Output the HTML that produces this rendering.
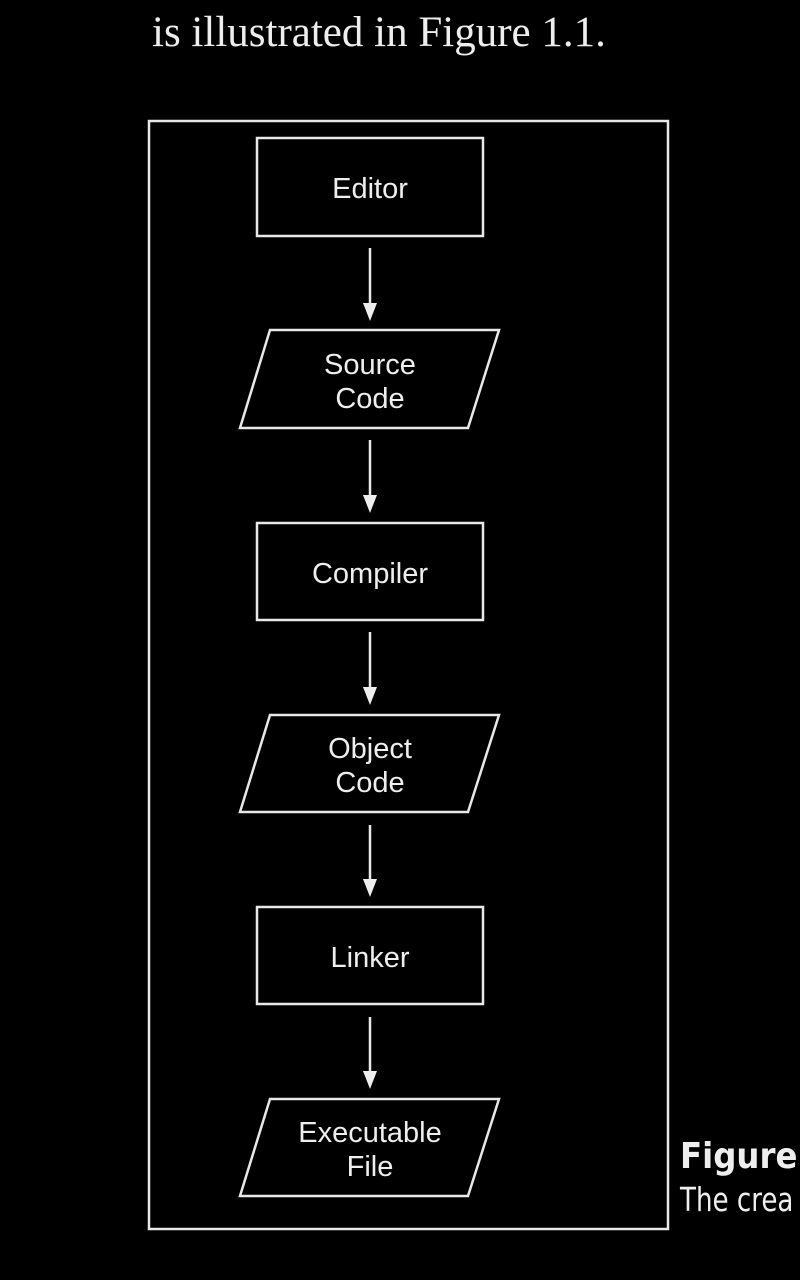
<!DOCTYPE html>
<html><head><style>
body{margin:0;background:#000;width:800px;height:1280px;overflow:hidden;position:relative}
.t{position:absolute;color:#eee;white-space:nowrap}
</style></head><body>
<div class="t" style="left:152px;top:8px;font:43px 'Liberation Serif',serif">is illustrated in Figure 1.1.</div>
<div class="t" style="left:680px;top:1136px;font:bold 36px 'DejaVu Sans Condensed','Liberation Sans',sans-serif">Figure</div>
<div class="t" style="left:680px;top:1180px;font:33px 'DejaVu Sans Condensed','Liberation Sans',sans-serif;transform:scaleX(0.88);transform-origin:left">The crea</div>
<svg width="800" height="1280" style="position:absolute;left:0;top:0" font-family="Liberation Sans, sans-serif" font-size="29" fill="#eee">
<g fill="none" stroke="#e8e8e8" stroke-width="2.5">
<rect x="149" y="121" width="519" height="1108"/>
<rect x="257" y="138" width="226" height="98"/>
<rect x="257" y="523" width="226" height="97"/>
<rect x="257" y="907" width="226" height="97"/>
<polygon points="270,330 499,330 468,428 240,428"/>
<polygon points="270,715 499,715 468,812 240,812"/>
<polygon points="270,1099 499,1099 468,1196 240,1196"/>
<path d="M370 248V308M370 440V500M370 632V692M370 825V884M370 1017V1076"/>
</g>
<g fill="#eee">
<path d="M363 303h14l-7 18z"/><path d="M363 495h14l-7 18z"/><path d="M363 687h14l-7 18z"/><path d="M363 879h14l-7 18z"/><path d="M363 1071h14l-7 18z"/>
</g>
<g text-anchor="middle">
<text x="370" y="198">Editor</text>
<text x="370" y="374">Source</text><text x="370" y="408">Code</text>
<text x="370" y="583">Compiler</text>
<text x="370" y="758">Object</text><text x="370" y="792">Code</text>
<text x="370" y="967">Linker</text>
<text x="370" y="1142">Executable</text><text x="370" y="1176">File</text>
</g>
</svg>
</body></html>
